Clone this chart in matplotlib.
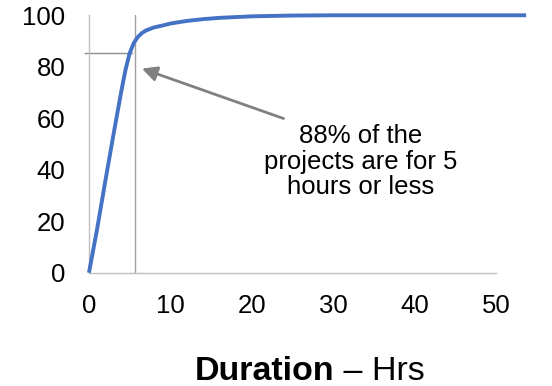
import matplotlib.pyplot as plt

plt.rcParams['font.family'] = ['Liberation Sans', 'DejaVu Sans']

# cumulative share of projects vs. duration (hours)
hours = [0, 1, 2, 3, 4, 4.5, 5, 5.5, 6, 6.5, 7, 8, 9, 10, 12, 14, 16, 18, 20, 25, 30, 40, 50, 53.7]
share = [0, 17, 35.5, 53.5, 71, 79, 85.3, 89.2, 91.6, 93.1, 94.1, 95.3, 96, 96.8, 97.8, 98.5, 99, 99.3, 99.6, 99.9, 100, 100, 100, 100]

x_ticks = [0, 10, 20, 30, 40, 50]
y_ticks = [0, 20, 40, 60, 80, 100]

marker_x = 5.65
marker_y = 85.4
note = "88% of the\nprojects are for 5\nhours or less"

fig = plt.figure(figsize=(5.52, 3.86), dpi=100)
ax = fig.add_axes([0.1612, 0.2935, 0.7374, 0.6669])

ax.plot(hours, share, color='#4472C4', lw=2.8, clip_on=False, zorder=3,
        solid_capstyle='butt', solid_joinstyle='round')

# guide lines for the 5 hour mark
ax.plot([marker_x, marker_x], [0, 100], color='#A0A0A0', lw=1.0, zorder=2)
ax.plot([-0.45, 5.3], [marker_y, marker_y], color='#8C8C8C', lw=1.0,
        clip_on=False, zorder=2)

ax.annotate("", xy=(6.5, 79.3), xytext=(23.9, 59.9),
            arrowprops=dict(arrowstyle='-|>,head_length=0.9,head_width=0.45',
                            color='#808080', lw=2.0, shrinkA=0, shrinkB=0))
ax.text(33.4, 43.2, note, ha='center', va='center', fontsize=18.5,
        linespacing=1.07, color='black')

ax.set_xlim(0, 50)
ax.set_ylim(0, 100)
ax.set_xticks(x_ticks)
ax.set_yticks(y_ticks)
ax.tick_params(length=0, labelsize=18.5, colors='black')
ax.tick_params(axis='x', pad=15)
ax.tick_params(axis='y', pad=17)

for side in ['top', 'right']:
    ax.spines[side].set_visible(False)
for side in ['left', 'bottom']:
    ax.spines[side].set_color('#BFBFBF')
    ax.spines[side].set_linewidth(1.0)

fig.text(334 / 552, 0.0155, "Duration", ha='right', va='baseline',
         fontsize=24.5, fontweight='bold')
fig.text(334 / 552, 0.0155, " \u2013 Hrs", ha='left', va='baseline',
         fontsize=24.5)

fig.savefig('out.png', dpi=100)
